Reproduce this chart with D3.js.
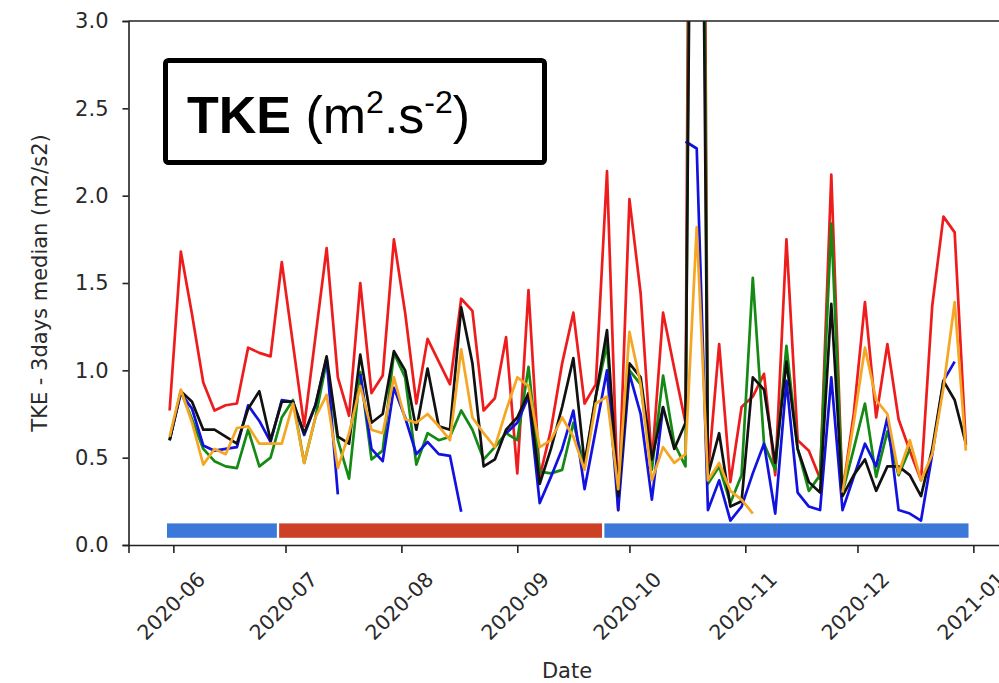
<!DOCTYPE html>
<html><head><meta charset="utf-8">
<script src="https://cdn.jsdelivr.net/npm/d3@7"></script>
<style>body{margin:0;background:#fff}svg{display:block}</style>
</head><body>
<svg id="c" width="999" height="683"></svg>
<script>
const dates = ["2020-05-31","2020-06-03","2020-06-06","2020-06-09","2020-06-12","2020-06-15","2020-06-18","2020-06-21","2020-06-24","2020-06-27","2020-06-30",
"2020-07-03","2020-07-06","2020-07-09","2020-07-12","2020-07-15","2020-07-18","2020-07-21","2020-07-24","2020-07-27","2020-07-30",
"2020-08-02","2020-08-05","2020-08-08","2020-08-11","2020-08-14","2020-08-17","2020-08-20","2020-08-23","2020-08-26","2020-08-29",
"2020-09-01","2020-09-04","2020-09-07","2020-09-10","2020-09-13","2020-09-16","2020-09-19","2020-09-22","2020-09-25","2020-09-28",
"2020-10-01","2020-10-04","2020-10-07","2020-10-10","2020-10-13","2020-10-16","2020-10-19","2020-10-22","2020-10-25","2020-10-28","2020-10-31",
"2020-11-03","2020-11-06","2020-11-09","2020-11-12","2020-11-15","2020-11-18","2020-11-21","2020-11-24","2020-11-27","2020-11-30",
"2020-12-03","2020-12-06","2020-12-09","2020-12-12","2020-12-15","2020-12-18","2020-12-21","2020-12-24","2020-12-27","2020-12-30"];

const redSeries = [0.77,1.68,1.32,0.93,0.77,0.80,0.81,1.13,1.10,1.08,1.62,1.15,0.68,1.19,1.70,
0.96,0.74,1.50,0.87,0.97,1.75,1.33,0.81,1.18,1.05,0.92,1.41,1.34,0.77,0.84,1.19,0.41,1.46,0.39,0.66,
1.04,1.33,0.81,0.92,2.14,0.20,1.98,1.44,0.47,1.33,1.01,0.70,
12,
0.40,1.15,0.36,0.79,0.85,0.98,0.40,1.75,0.60,0.54,0.38,
2.12,0.30,0.75,1.39,0.73,1.15,0.72,0.54,0.37,1.37,1.88,1.79,0.57];

const blackSeries = [0.60,0.88,0.82,0.66,0.66,0.62,0.58,0.78,0.88,0.60,0.82,0.82,0.64,0.80,1.08,
0.62,0.58,1.09,0.70,0.75,1.11,1.00,0.66,1.01,0.68,0.66,1.36,1.04,0.45,0.49,0.66,0.73,0.87,0.35,0.55,
0.79,1.07,0.47,0.85,1.23,0.28,1.04,0.96,0.49,0.79,0.55,0.70,
8,
0.40,0.64,0.22,0.25,0.96,0.89,0.47,1.05,0.55,0.36,0.30,
1.38,0.28,0.40,0.49,0.31,0.45,0.45,0.40,0.28,0.55,0.94,0.83,0.58];

const blueSeries = [0.60,0.87,0.78,0.57,0.54,0.55,0.56,0.80,0.71,0.59,0.83,0.82,0.63,0.80,1.07,
0.29,null,0.98,0.55,0.48,0.90,0.73,0.52,0.59,0.52,0.51,0.19,null,null,null,0.64,0.70,0.85,0.24,0.39,
0.55,0.77,0.32,0.66,1.00,0.20,0.98,0.75,0.26,0.79,null,2.31,
2.27,
0.20,0.37,0.14,0.22,0.41,0.58,0.18,0.94,0.30,0.22,0.20,
0.96,0.20,0.39,0.58,0.45,0.73,0.20,0.18,0.14,0.52,0.94,1.05,null];

const greenSeries = [0.60,0.88,0.72,0.55,0.48,0.45,0.44,0.66,0.45,0.50,0.73,0.83,0.47,0.73,1.05,
0.60,0.38,0.99,0.49,0.54,1.10,0.96,0.46,0.64,0.60,0.62,0.77,0.66,0.49,0.56,0.64,0.60,1.02,0.42,0.41,
0.43,0.70,0.45,0.85,1.15,0.28,1.00,0.92,0.43,0.97,0.58,0.45,
10,
0.35,0.45,0.24,0.40,1.53,0.58,0.43,1.14,0.55,0.31,0.40,
1.84,0.30,0.55,0.81,0.39,0.65,0.40,0.55,null,null,null,null,null];

const orangeSeries = [0.62,0.89,0.70,0.46,0.55,0.52,0.67,0.68,0.58,0.58,0.58,0.81,0.47,0.73,0.86,
0.44,0.64,0.91,0.66,0.64,0.96,0.72,0.70,0.75,0.68,0.60,1.12,0.73,0.64,0.56,0.77,0.96,0.91,0.56,0.60,
0.73,0.62,0.43,0.81,0.85,0.32,1.22,0.92,0.37,0.56,0.47,0.52,
1.82,
0.37,0.47,0.31,0.26,0.18,null,null,null,null,null,null,
null,0.30,0.70,1.13,0.83,0.75,0.41,0.60,0.37,0.52,0.90,1.39,0.54];

const periodStarts = ["2020-05-30","2020-06-29","2020-09-24"];
const periodEnds   = ["2020-06-29","2020-09-24","2020-12-31"];
const periodColors = ["#3c78d8","#cc4125","#3c78d8"];

const yTicks = [0,0.5,1.0,1.5,2.0,2.5,3.0];
const xTickLabels = ["2020-06","2020-07","2020-08","2020-09","2020-10","2020-11","2020-12","2021-01"];
const seriesNames = ["red","green","blue","black","orange"];

const parse = d3.timeParse("%Y-%m-%d");
const parseM = d3.timeParse("%Y-%m");
const svg = d3.select("#c");
const L = 128.5, R = 1007, T = 21, B = 545;

const x = d3.scaleTime().domain([parse("2020-05-20"), d3.timeDay.offset(parse("2020-05-20"), (R - L) / 3.725)]).range([L, R]);
const y = d3.scaleLinear().domain([0, 3]).range([B, T]);

svg.append("defs").append("clipPath").attr("id","clip")
  .append("rect").attr("x", L).attr("y", T).attr("width", R - L).attr("height", B - T);

const plot = svg.append("g").attr("clip-path","url(#clip)");

plot.selectAll("rect.period").data(periodStarts).enter().append("rect")
  .attr("class","period")
  .attr("x", (d,i) => x(parse(d)))
  .attr("width", (d,i) => x(parse(periodEnds[i])) - x(parse(d)))
  .attr("y", y(0.13)).attr("height", y(0.035) - y(0.13))
  .attr("fill", (d,i) => periodColors[i])
  .attr("stroke","#fff").attr("stroke-width", 2.2);

const seriesData = {red: redSeries, black: blackSeries, blue: blueSeries, green: greenSeries, orange: orangeSeries};
const colorMap = {red:"#ee1c1c", black:"#111111", blue:"#1212e0", green:"#148a14", orange:"#f5a623"};
const line = d3.line().defined(d => d.v != null).x(d => x(d.t)).y(d => y(d.v));

seriesNames.forEach(name => {
  const pts = dates.map((d,i) => ({t: parse(d), v: seriesData[name][i]}));
  plot.append("path").datum(pts)
    .attr("d", line).attr("fill","none")
    .attr("stroke", colorMap[name]).attr("stroke-width", 2.7)
    .attr("stroke-linejoin","round");
});

svg.append("line").attr("x1", L).attr("x2", 999).attr("y1", T).attr("y2", T).attr("stroke","#222").attr("stroke-width",1.6);

const yAxis = svg.append("g").attr("transform",`translate(${L},0)`)
  .call(d3.axisLeft(y).tickValues(yTicks).tickFormat(d3.format(".1f")).tickSize(6).tickPadding(14));
yAxis.select(".domain").attr("stroke","#222").attr("stroke-width",1.6);
yAxis.selectAll(".tick line").attr("stroke","#222").attr("stroke-width",1.6);
yAxis.selectAll(".tick text").attr("font-family","DejaVu Sans").attr("font-size",21).attr("fill","#2a2a2a");

const xTicks = xTickLabels.map(s => parseM(s));
const xAxis = svg.append("g").attr("transform",`translate(0,${B})`)
  .call(d3.axisBottom(x).tickValues(xTicks).tickSize(8).tickFormat(""));
xAxis.select(".domain").attr("stroke","#222").attr("stroke-width",1.6);
xAxis.selectAll(".tick line").attr("stroke","#222").attr("stroke-width",1.6);
svg.append("g").selectAll("text").data(xTicks).enter().append("text")
  .attr("transform", d => `translate(${x(d) - 2},606) rotate(-45)`)
  .attr("text-anchor","middle").attr("dominant-baseline","central")
  .attr("font-family","DejaVu Sans").attr("font-size",20.5).attr("fill","#2a2a2a")
  .text((d,i) => xTickLabels[i]);

svg.append("text").attr("x", 567).attr("y", 678).attr("text-anchor","middle")
  .attr("font-family","DejaVu Sans").attr("font-size",21).attr("fill","#2a2a2a").text("Date");
svg.append("text").attr("transform","translate(47,283) rotate(-90)").attr("text-anchor","middle")
  .attr("font-family","DejaVu Sans").attr("font-size",21).attr("fill","#2a2a2a").text("TKE - 3days median (m2/s2)");

svg.append("rect").attr("x",165.5).attr("y",60.5).attr("width",379).attr("height",102)
  .attr("rx",3).attr("fill","#fff").attr("stroke","#000").attr("stroke-width",5);
const t = svg.append("text").attr("x",187).attr("y",133)
  .attr("font-family","Liberation Sans, Arial, sans-serif").attr("font-size",52).attr("fill","#000");
t.append("tspan").attr("font-weight","bold").text("TKE");
t.append("tspan").text(" (m");
t.append("tspan").attr("font-size",32).attr("dy",-20).text("2");
t.append("tspan").attr("dy",20).text(".s");
t.append("tspan").attr("font-size",32).attr("dy",-20).text("-2");
t.append("tspan").attr("dy",20).text(")");
</script>
</body></html>
